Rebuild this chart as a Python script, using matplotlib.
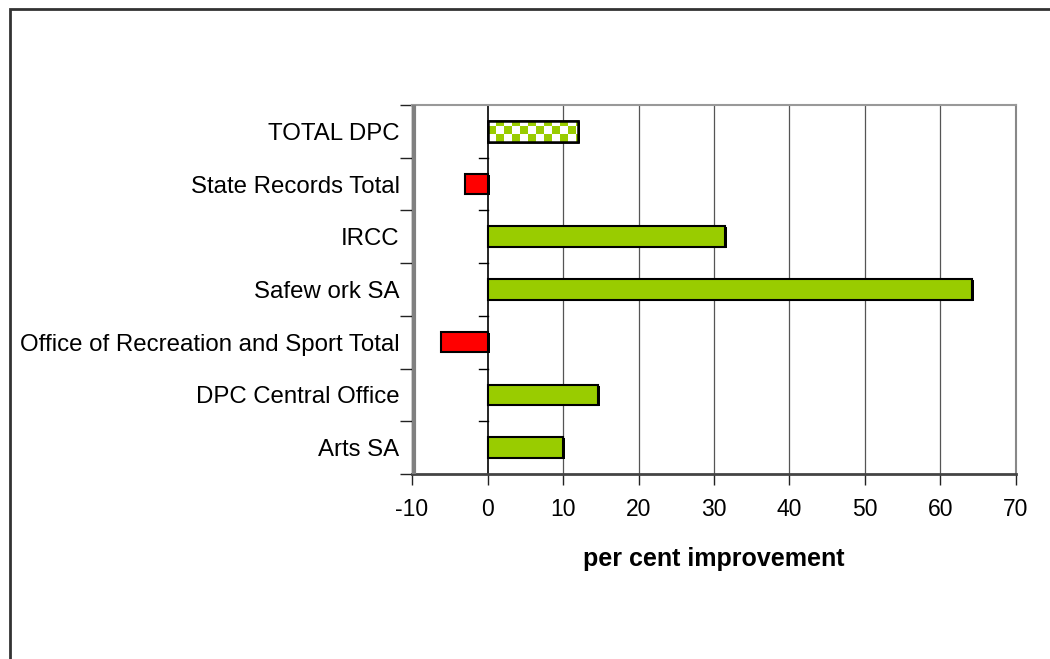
import numpy as np
import matplotlib
matplotlib.use('Agg')
import matplotlib.pyplot as plt
import matplotlib.transforms as mtransforms
from matplotlib.patches import Rectangle

# Data
###############################################################################
categories = ['Arts SA', 'DPC Central Office', 'Office of Recreation and Sport Total',
              'Safew ork SA', 'IRCC', 'State Records Total', 'TOTAL DPC']
values = [10.0, 14.6, -6.2, 64.2, 31.5, -3.0, 12.0]
x_ticks = [-10, 0, 10, 20, 30, 40, 50, 60, 70]

GREEN = '#99CC00'
RED = '#FF0000'

plt.rcParams['font.family'] = ['Liberation Sans', 'DejaVu Sans']

fig = plt.figure(figsize=(10.5, 6.59), dpi=100)
ax = fig.add_axes([0.3924, 0.2807, 0.9676 - 0.3924, 0.8407 - 0.2807])

# outer chart frame (only left and top edges are visible)
fig.patches.append(Rectangle((9.5 / 1050, -0.2), 1.2, 1.2 - 8.5 / 659,
                             transform=fig.transFigure, fill=False,
                             edgecolor='#333333', linewidth=2))

y = np.arange(len(categories))
bar_h = 0.39
shadow = mtransforms.offset_copy(ax.transData, fig=fig, x=2, y=-1, units='dots')

for yi, v in zip(y, values):
    # small dark shadow like the old excel 3d look
    ax.barh(yi, v, height=bar_h, color='black', linewidth=0, zorder=2.5,
            transform=shadow)
    if categories[yi] == 'TOTAL DPC':
        bar = ax.barh(yi, v, height=bar_h, color='white', edgecolor='black',
                      linewidth=1.8, zorder=3)[0]
        # checkerboard fill clipped to the bar
        nx, ny = 12, 3
        chk = (np.indices((ny, nx)).sum(axis=0) % 2)
        img = np.ones((ny, nx, 3))
        img[chk == 1] = matplotlib.colors.to_rgb(GREEN)
        im = ax.imshow(img, extent=(0, nx * 1.06, yi - bar_h / 2, yi - bar_h / 2 + ny * 0.15),
                       origin='lower', interpolation='nearest', aspect='auto', zorder=3)
        im.set_clip_path(bar)
        ax.barh(yi, v, height=bar_h, color='none', edgecolor='black',
                linewidth=1.8, zorder=4)
    else:
        ax.barh(yi, v, height=bar_h, color=GREEN if v > 0 else RED,
                edgecolor='black', linewidth=1.5, zorder=3)

ax.set_xlim(-10, 70)
ax.set_ylim(-0.5, len(categories) - 0.5)
ax.set_aspect('auto')

# grid and zero line
for xt in x_ticks[2:-1]:
    ax.axvline(xt, color='#555555', linewidth=0.9, zorder=1)
ax.axvline(0, color='black', linewidth=1.2, zorder=2)

# ticks at category boundaries on the zero line
bounds = np.arange(-0.5, len(categories) + 0.5, 1.0)
for b in bounds[1:-1]:
    ax.plot([-1.1, 0], [b, b], color='black', linewidth=1, zorder=2, clip_on=False)

ax.set_xticks(x_ticks)
ax.set_xticklabels([str(t) for t in x_ticks], fontsize=16.5)
ax.tick_params(axis='x', length=8, width=1, color='#222222', pad=9)

ax.set_yticks(y)
ax.set_yticklabels(categories, fontsize=17.3)
ax.set_yticks(bounds, minor=True)
ax.tick_params(axis='y', which='major', length=0, pad=9)
ax.tick_params(axis='y', which='minor', length=9, width=1, color='#222222')

ax.spines['left'].set_color('black')
ax.spines['left'].set_linewidth(1)
ax.spines['bottom'].set_color('#444444')
ax.spines['bottom'].set_linewidth(2)
ax.spines['top'].set_color('#999999')
ax.spines['top'].set_linewidth(1.5)
ax.spines['right'].set_color('#888888')
ax.spines['right'].set_linewidth(1.5)
ax.axvline(-9.75, color='#808080', linewidth=3, zorder=5)

ax.set_xlabel('per cent improvement', fontsize=18, fontweight='bold', labelpad=19)

fig.savefig('out.png', dpi=100)
